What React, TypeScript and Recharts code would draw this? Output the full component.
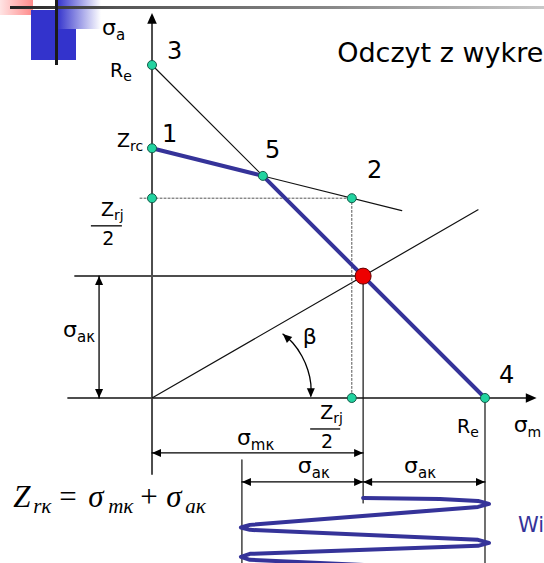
import React from "react";
import { ComposedChart, XAxis, YAxis, Line, Scatter } from "recharts";

// Haigh diagram, stresses scaled so that Re = 100
const X_DOMAIN = [-45.65, 117.72];
const Y_DOMAIN = [-49.55, 119.52];

// characteristic points 1..5 (σm, σa)
const pointNames = ["1", "2", "3", "4", "5"];
const pointSigmaM = [0, 60, 0, 100, 33.3];
const pointSigmaA = [75, 60, 100, 0, 66.7];

// Zrj/2 marks on both axes
const halfZrjSigmaM = [0, 60];
const halfZrjSigmaA = [60, 0];

// working point K where the β ray meets the limit line
const workSigmaM = 63.4;
const workSigmaA = 36.6;

// end of the β ray and of the extended 1-2 line
const rayEnd = { x: 97.9, y: 56.5 };
const line12End = { x: 75, y: 56.25 };

// levels of the dimension lines below the diagram
const dimSigmaMk = -16.5;
const dimSigmaAk = -25.2;
const leftAmplitude = 27.0;

// load cycle between σmin and σmax
const cycle = [
  { x: 63.4, y: -30.0 },
  { x: 86.5, y: -30.3 },
  { x: 97.9, y: -30.9 },
  { x: 101.2, y: -31.8 },
  { x: 97.9, y: -32.7 },
  { x: 29.4, y: -38.1 },
  { x: 26.7, y: -38.9 },
  { x: 29.4, y: -39.6 },
  { x: 97.9, y: -42.6 },
  { x: 101.2, y: -43.5 },
  { x: 97.9, y: -44.4 },
  { x: 29.4, y: -46.8 },
  { x: 26.7, y: -47.7 },
  { x: 29.4, y: -48.6 },
  { x: 97.9, y: -51.7 },
];

// angle β arc
const betaArc = [
  { x: 39.3, y: 19.2 },
  { x: 42.3, y: 16.5 },
  { x: 45.0, y: 12.6 },
  { x: 46.8, y: 8.4 },
  { x: 47.7, y: 4.2 },
  { x: 47.7, y: 0.6 },
];

const pt = (i: number) => ({ x: pointSigmaM[i], y: pointSigmaA[i] });
const P1 = pt(0), P2 = pt(1), P3 = pt(2), P4 = pt(3), P5 = pt(4);
const K = { x: workSigmaM, y: workSigmaA };

const SANS = "DejaVu Sans, Verdana, sans-serif";
const SERIF = "Liberation Serif, Times New Roman, serif";
const BLUE = "#353399";
const AXIS = "#4d4d4d";

type Seg = { x: number; y: number }[];
type Stroke = { data: Seg; color: string; width: number; dash?: string; curve?: "linear" | "natural" };

const strokes: Stroke[] = [
  // axes
  { data: [{ x: 0, y: -22.8 }, { x: 0, y: 113 }], color: AXIS, width: 2 },
  { data: [{ x: -25.2, y: 0 }, { x: 113, y: 0 }], color: AXIS, width: 2 },
  { data: [{ x: -23.1, y: K.y }, { x: K.x, y: K.y }], color: AXIS, width: 2 },
  // limit lines
  { data: [P3, P4], color: "#111", width: 1.2 },
  { data: [P1, line12End], color: "#111", width: 1.2 },
  { data: [{ x: 0, y: 0 }, rayEnd], color: "#111", width: 1.2 },
  // Zrj/2 dotted guides
  { data: [{ x: -3.6, y: halfZrjSigmaA[0] }, P2, { x: halfZrjSigmaM[1], y: 0 }], color: "#555", width: 1, dash: "2 2" },
  // extension lines
  { data: [K, { x: K.x, y: -31.5 }], color: "#111", width: 1.2 },
  { data: [P4, { x: P4.x, y: -50 }], color: "#111", width: 1.2 },
  { data: [{ x: leftAmplitude, y: -18.6 }, { x: leftAmplitude, y: -50 }], color: "#111", width: 1.2 },
  // dimension lines
  { data: [{ x: -15.9, y: 0 }, { x: -15.9, y: K.y }], color: "#000", width: 1.3 },
  { data: [{ x: 0, y: dimSigmaMk }, { x: K.x, y: dimSigmaMk }], color: "#000", width: 1.3 },
  { data: [{ x: leftAmplitude, y: dimSigmaAk }, { x: P4.x, y: dimSigmaAk }], color: "#000", width: 1.3 },
  { data: betaArc, color: "#000", width: 1.3, curve: "natural" },
  // limit stress polyline 1-5-4 and load cycle
  { data: [P1, P5, P4], color: BLUE, width: 4 },
  { data: cycle, color: BLUE, width: 4 },
];

const arrows = [
  { x: 0, y: 115.6, a: -90, s: 1.2 },
  { x: 115.5, y: 0, a: 0, s: 1.2 },
  { x: -15.9, y: K.y, a: -90, s: 1 },
  { x: -15.9, y: 0, a: 90, s: 1 },
  { x: 0, y: dimSigmaMk, a: 180, s: 1 },
  { x: K.x, y: dimSigmaMk, a: 0, s: 1 },
  { x: leftAmplitude, y: dimSigmaAk, a: 180, s: 1 },
  { x: K.x, y: dimSigmaAk, a: 0, s: 1 },
  { x: K.x, y: dimSigmaAk, a: 180, s: 1 },
  { x: P4.x, y: dimSigmaAk, a: 0, s: 1 },
  { x: 39.3, y: 19.2, a: -138, s: 1 },
  { x: 47.7, y: 0.2, a: 90, s: 1 },
];

const greenDots = [
  P3,
  P1,
  { x: halfZrjSigmaM[0], y: halfZrjSigmaA[0] },
  P5,
  P2,
  P4,
  { x: halfZrjSigmaM[1], y: halfZrjSigmaA[1] },
];

type Note = {
  x: number;
  y: number;
  kind: "text" | "frac" | "formula";
  main?: string;
  sub?: string;
  size?: number;
  subSize?: number;
  subDy?: number;
  color?: string;
  width?: number;
};

const notes: Note[] = [
  { x: -15.0, y: 109.0, kind: "text", main: "σ", sub: "a", size: 22, subSize: 15, subDy: 5 },
  { x: 4.5, y: 101.8, kind: "text", main: pointNames[2], size: 24 },
  { x: -12.6, y: 96.4, kind: "text", main: "R", sub: "e", size: 19, subSize: 14, subDy: 4 },
  { x: 3.0, y: 76.9, kind: "text", main: pointNames[0], size: 24 },
  { x: -10.5, y: 75.4, kind: "text", main: "Z", sub: "rc", size: 19, subSize: 14, subDy: 4 },
  { x: 33.9, y: 72.1, kind: "text", main: pointNames[4], size: 24 },
  { x: 64.6, y: 66.1, kind: "text", main: pointNames[1], size: 24 },
  { x: -13.7, y: 51.7, kind: "frac", width: 31 },
  { x: -26.7, y: 18.3, kind: "text", main: "σ", sub: "aκ", size: 22, subSize: 15, subDy: 5 },
  { x: 45.3, y: 16.2, kind: "text", main: "β", size: 22 },
  { x: 104.2, y: 4.5, kind: "text", main: pointNames[3], size: 24 },
  { x: 52.0, y: -9.3, kind: "frac", width: 30 },
  { x: 91.6, y: -10.5, kind: "text", main: "R", sub: "e", size: 19, subSize: 14, subDy: 4 },
  { x: 108.6, y: -10.2, kind: "text", main: "σ", sub: "m", size: 22, subSize: 14, subDy: 5 },
  { x: 25.5, y: -14.1, kind: "text", main: "σ", sub: "mκ", size: 22, subSize: 15, subDy: 5 },
  { x: 43.8, y: -22.5, kind: "text", main: "σ", sub: "aκ", size: 22, subSize: 15, subDy: 5 },
  { x: 75.7, y: -22.5, kind: "text", main: "σ", sub: "aκ", size: 22, subSize: 15, subDy: 5 },
  { x: 55.6, y: 100.9, kind: "text", main: "Odczyt z wykre", size: 27 },
  { x: 109.9, y: -40.2, kind: "text", main: "Wi", size: 21, color: BLUE },
  { x: -41.7, y: -32.7, kind: "formula" },
];

function renderNote(n: Note, cx: number, cy: number) {
  if (n.kind === "frac") {
    const w = n.width ?? 30;
    return (
      <g>
        <text x={cx - w / 2 + 10} y={cy - 10} fontFamily={SANS} fontSize={19} fill="#000">
          Z<tspan fontSize={14} dy={4}>rj</tspan>
        </text>
        <line x1={cx - w / 2} x2={cx + w / 2} y1={cy} y2={cy} stroke="#000" strokeWidth={1.3} />
        <text x={cx + 2} y={cy + 19} fontFamily={SANS} fontSize={19} fill="#000" textAnchor="middle">
          2
        </text>
      </g>
    );
  }
  if (n.kind === "formula") {
    return (
      <text y={cy} fontFamily={SERIF} fontStyle="italic" fontSize={31} fill="#000">
        <tspan x={cx}>Z</tspan>
        <tspan x={cx + 20} dy={6} fontSize={21}>rκ</tspan>
        <tspan x={cx + 46} dy={-6} fontStyle="normal">=</tspan>
        <tspan x={cx + 75}>σ</tspan>
        <tspan x={cx + 95} dy={6} fontSize={21}>mκ</tspan>
        <tspan x={cx + 127} dy={-6} fontStyle="normal">+</tspan>
        <tspan x={cx + 153}>σ</tspan>
        <tspan x={cx + 172} dy={6} fontSize={21}>aκ</tspan>
      </text>
    );
  }
  return (
    <text x={cx} y={cy} fontFamily={SANS} fontSize={n.size} fill={n.color ?? "#000"}>
      {n.main}
      {n.sub && (
        <tspan fontSize={n.subSize} dy={n.subDy}>
          {n.sub}
        </tspan>
      )}
    </text>
  );
}

function Arrow(props: any) {
  const { cx, cy, payload } = props;
  const s = payload.s;
  return (
    <polygon
      points={`0,0 ${-9 * s},${-4 * s} ${-9 * s},${4 * s}`}
      transform={`translate(${cx},${cy}) rotate(${payload.a})`}
      fill="#000"
    />
  );
}

function Decoration() {
  return (
    <>
      <div style={{ position: "absolute", left: 0, top: 0, width: 33, height: 15, background: "linear-gradient(to right, #ffe4e4, #ff8a8a)" }} />
      <div style={{ position: "absolute", left: 57, top: 0, width: 44, height: 29, background: "linear-gradient(to right, #3333cc, #ffffff)" }} />
      <div style={{ position: "absolute", left: 31, top: 10, width: 25, height: 50, background: "#3333cc" }} />
      <div style={{ position: "absolute", left: 56, top: 29, width: 20, height: 31, background: "#3333cc" }} />
      <div style={{ position: "absolute", left: 10, top: 6, width: 534, height: 3, background: "linear-gradient(to right, #222 0%, #555 20%, #888 60%, #c8c8c8 100%)" }} />
      <div style={{ position: "absolute", left: 55, top: 0, width: 3, height: 65, background: "#1a1a1a" }} />
    </>
  );
}

export default function App() {
  return (
    <div style={{ position: "absolute", left: 0, top: 0, width: 544, height: 563, background: "#fff", overflow: "hidden" }}>
      <ComposedChart width={544} height={563} margin={{ top: 0, right: 0, bottom: 0, left: 0 }}>
        <XAxis type="number" dataKey="x" domain={X_DOMAIN} hide allowDataOverflow />
        <YAxis type="number" dataKey="y" domain={Y_DOMAIN} hide allowDataOverflow />
        {strokes.map((s, i) => (
          <Line
            key={`s${i}`}
            data={s.data}
            dataKey="y"
            type={s.curve ?? "linear"}
            stroke={s.color}
            strokeWidth={s.width}
            strokeDasharray={s.dash}
            strokeLinejoin="round"
            strokeLinecap="round"
            dot={false}
            activeDot={false}
            legendType="none"
            isAnimationActive={false}
          />
        ))}
        <Scatter data={arrows} shape={<Arrow />} isAnimationActive={false} />
        <Scatter
          data={greenDots}
          shape={(p: any) => <circle cx={p.cx} cy={p.cy} r={4.5} fill="#22d3a0" stroke="#145c4a" strokeWidth={1} />}
          isAnimationActive={false}
        />
        <Scatter
          data={[K]}
          shape={(p: any) => <circle cx={p.cx} cy={p.cy} r={8} fill="#ee0000" stroke="#660000" strokeWidth={1} />}
          isAnimationActive={false}
        />
        <Scatter data={notes} shape={(p: any) => renderNote(p.payload, p.cx, p.cy)} isAnimationActive={false} />
      </ComposedChart>
      <Decoration />
    </div>
  );
}
